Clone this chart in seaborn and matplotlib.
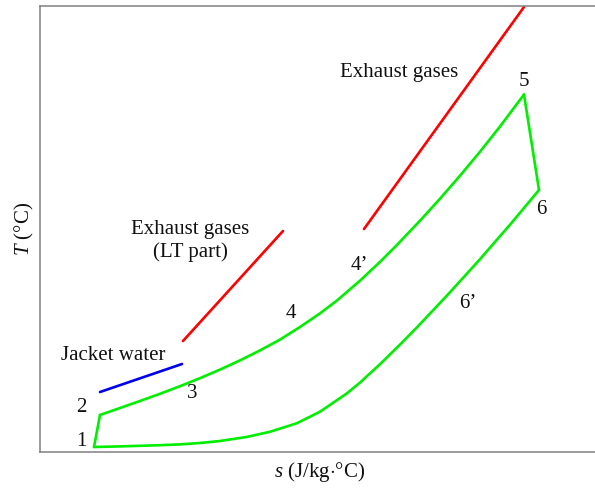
import matplotlib
matplotlib.use("Agg")
import matplotlib.pyplot as plt
import seaborn as sns
import pandas as pd

# Cycle state points and heat-source lines on a T-s diagram (arbitrary units)
s_heating = [60, 80, 100, 120, 140, 160, 180, 200, 220, 240, 260, 280, 297,
             320, 340, 357, 380, 400, 420, 440, 460, 484]
T_heating = [37, 44, 51, 58.2, 65.8, 73.8, 82.4, 91.6, 101.6, 112.4, 125, 138.6, 151.5,
             171.3, 190.1, 207.1, 231.3, 253.3, 276.3, 300.3, 325.5, 357.5]

s_expansion = [484, 499]
T_expansion = [357.5, 262]

s_cooling = [499, 485, 470, 455, 440, 424, 407, 392, 377, 360, 340, 320, 307,
             295, 280, 257, 230, 207, 180, 160, 140, 120, 100, 80, 54]
T_cooling = [262, 245.2, 227.3, 210.1, 192.8, 175.2, 156.5, 140.6, 124.7, 107.4, 87.8, 69.4, 58.7,
             50.5, 40.3, 28.8, 20.2, 15.1, 11.0, 9.0, 7.6, 6.8, 6.2, 5.6, 5.0]

s_pump = [54, 60]
T_pump = [5, 37]

s_jacket = [60, 142]
T_jacket = [60, 88]

s_exhaust_lt = [143, 243]
T_exhaust_lt = [111, 221]

s_exhaust = [324, 484]
T_exhaust = [223, 445]

point_labels = ["1", "2", "3", "4", "4\u2019", "5", "6", "6\u2019"]
point_s = [41, 41, 152, 251, 319, 484, 501, 428]
point_T = [11, 45, 58, 139, 186, 371, 243, 148]

sns.set_theme(style="white")
plt.rcParams["font.family"] = ["Liberation Serif", "DejaVu Serif"]
plt.rcParams["mathtext.fontset"] = "custom"
plt.rcParams["mathtext.it"] = "Liberation Serif:italic"
plt.rcParams["mathtext.rm"] = "Liberation Serif"

fig = plt.figure(figsize=(5.95, 4.91), dpi=100)
ax = fig.add_axes([40 / 595, 39 / 491, 560 / 595, 446 / 491])

green = "#00ee00"
lw = 1.9

def draw(s, T, color):
    sns.lineplot(data=pd.DataFrame({"s": s, "T": T}), x="s", y="T", sort=False,
                 estimator=None, color=color, linewidth=lw, ax=ax)

draw(s_heating, T_heating, green)
draw(s_expansion, T_expansion, green)
draw(s_cooling, T_cooling, green)
draw(s_pump, T_pump, green)
draw(s_jacket, T_jacket, "#0000ee")
draw(s_exhaust_lt, T_exhaust_lt, "#ff0000")
draw(s_exhaust, T_exhaust, "#ff0000")

ax.set_xlim(0, 560)
ax.set_ylim(0, 446)
ax.set_xticks([])
ax.set_yticks([])
for side in ["left", "bottom", "top"]:
    ax.spines[side].set_color("#808080")
    ax.spines[side].set_linewidth(1.1)
ax.spines["right"].set_visible(False)

fs = 15
ink = "#111111"
for lab, xs, yt in zip(point_labels, point_s, point_T):
    ax.text(xs, yt, lab, fontsize=fs, ha="center", va="center", color=ink)

ax.text(359, 379, "Exhaust gases", fontsize=fs, ha="center", va="center", color=ink)
ax.text(150, 211, "Exhaust gases\n(LT part)", fontsize=fs, ha="center", va="center",
        linespacing=1.2, color=ink)
ax.text(73, 97, "Jacket water", fontsize=fs, ha="center", va="center", color=ink)

ax.set_xlabel(r"$s$ (J/kg$\cdot$°C)", fontsize=fs, color=ink, labelpad=6)
ax.set_ylabel(r"$T$ (°C)", fontsize=fs, color=ink, labelpad=3)

fig.savefig("out.png", dpi=100)
